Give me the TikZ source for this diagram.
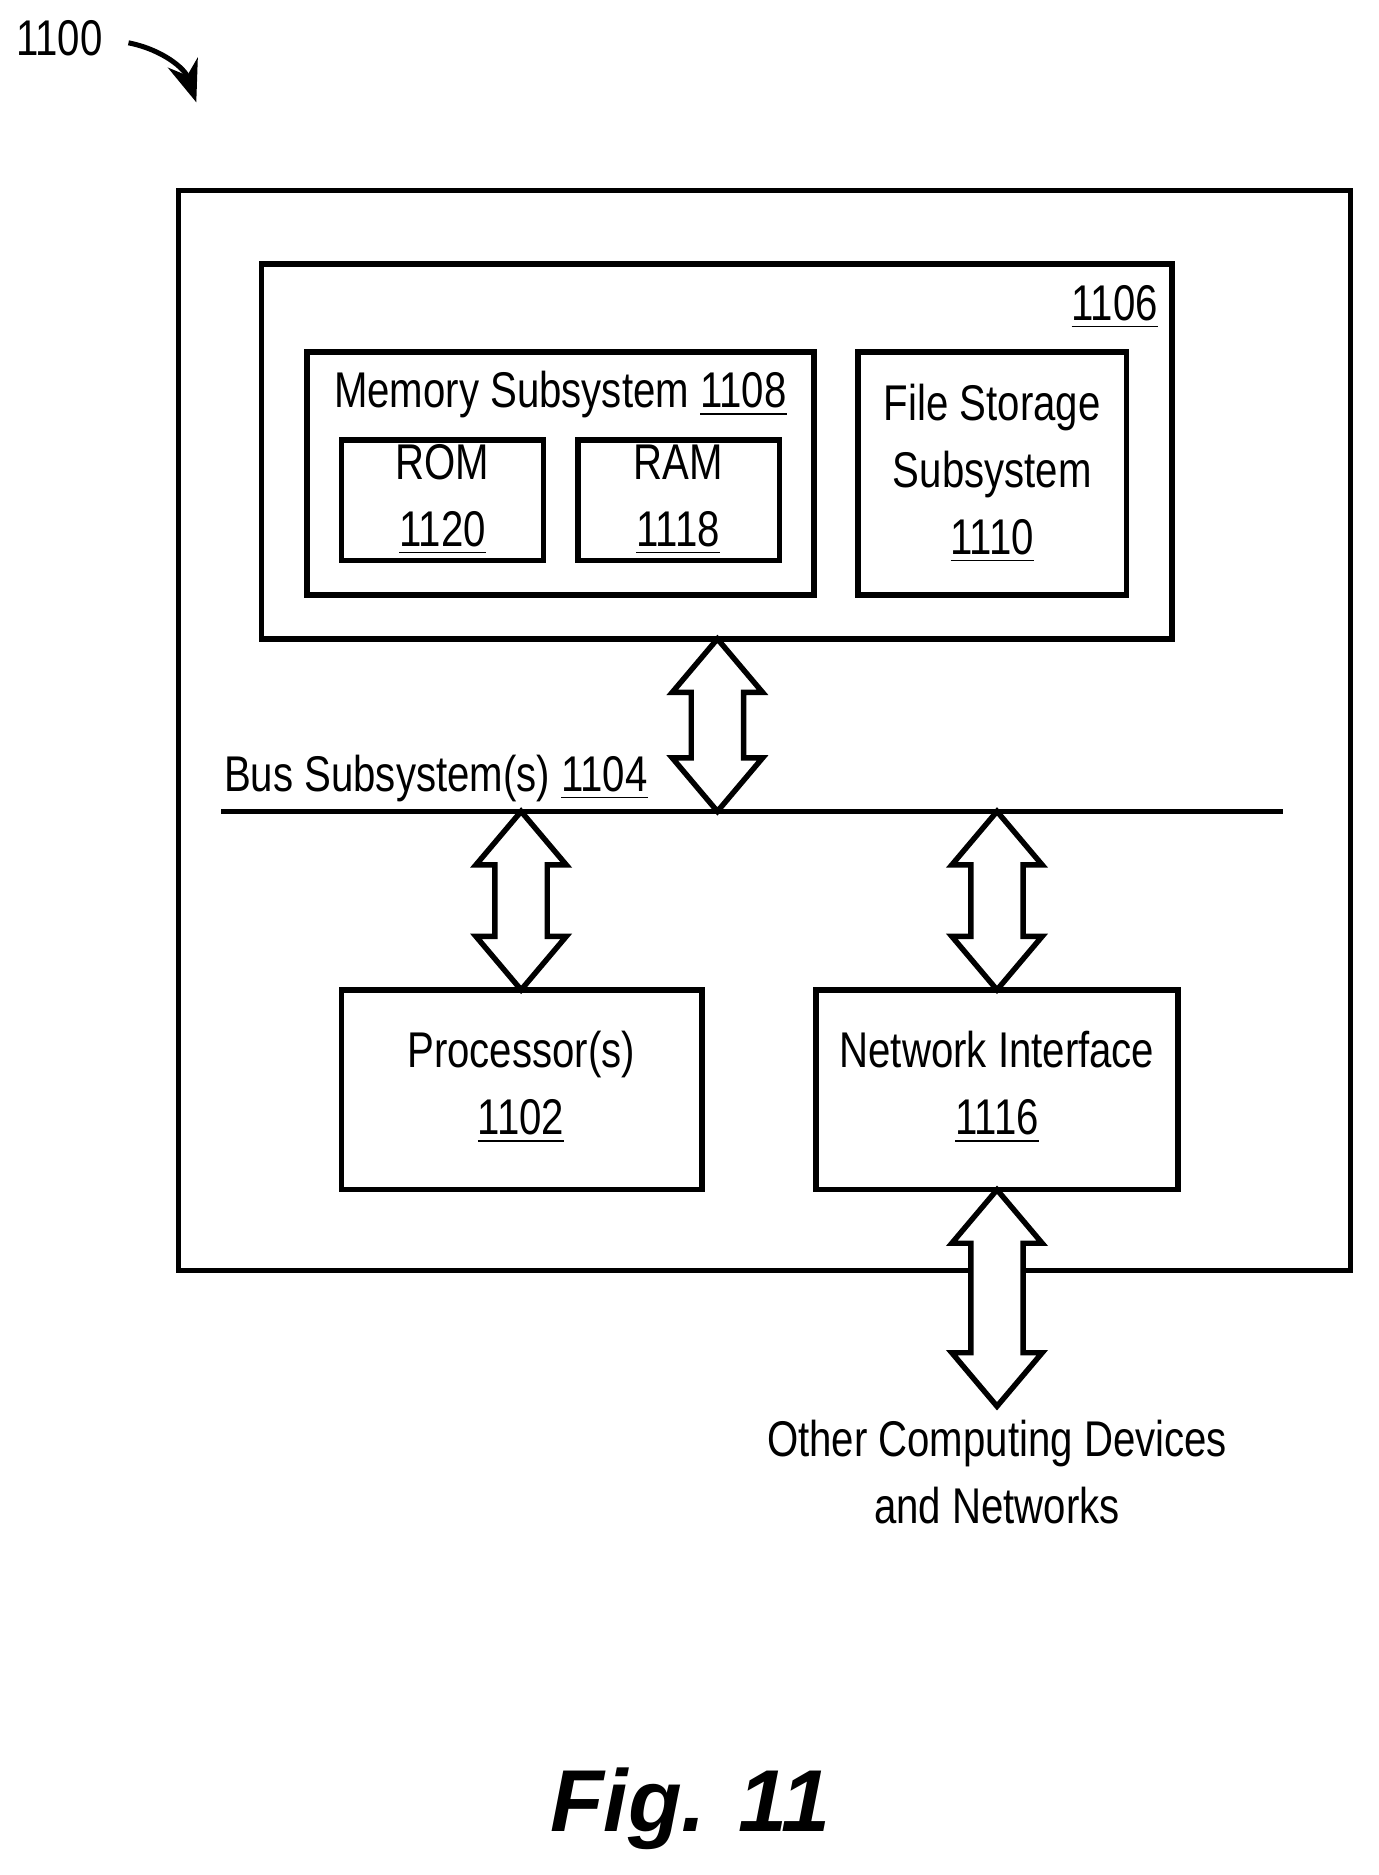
\documentclass[tikz,border=0pt]{standalone}
\usepackage{fontspec}
\setmainfont{Liberation Sans}[FakeStretch=0.8]
\newfontfamily\figfont{Liberation Sans}
\usetikzlibrary{positioning,calc,arrows.meta}
\newcommand{\bidiarrow}[2]{% from coordinate #1 (top) to #2 (bottom)
  \draw[bigarrow] ($(#1)$) -- ++(-38,45) -- ++(16,0) |- ($(#2)+(-22,-45)$) -- ++(-16,0)
    -- ($(#2)$) -- ++(38,-45) -- ++(-16,0) |- ($(#1)+(22,45)$) -- ++(16,0) -- cycle;}
\begin{document}
\begin{tikzpicture}[
    x=0.01cm, y=-0.01cm,
    bigarrow/.style={
        draw,
        line width=1.3pt,
        fill=white
    },
    lbl/.style={
        font=\fontsize{12}{16}\selectfont,
        align=center
    }
]
\useasboundingbox (0,0) rectangle (1159,1576);

% Outer system
\draw[line width=1.3pt] (150,160) rectangle (1135,1068);
\draw[line width=1.3pt] (220,222) rectangle (985,537);
\node[lbl] (n1106) at (937,258) {\underline{1106}};

% Memory and storage
\draw[line width=1.3pt] (258,296) rectangle (684,500);
\node[lbl] (mem) at (471,332) {Memory Subsystem \underline{1108}};
\draw[line width=1.3pt] (287,370) rectangle (457,471);
\node[lbl] (rom) at (372,420) {ROM\\\underline{1120}};
\draw[line width=1.3pt] (486,370) rectangle (655,471);
\node[lbl] (ram) at (570,420) {RAM\\\underline{1118}};
\draw[line width=1.3pt] (721,296) rectangle (947,500);
\node[lbl] (file) at (834,398) {File Storage\\Subsystem\\\underline{1110}};

% Bus
\coordinate (busL) at (186,682);
\coordinate (busR) at (1078,682);
\draw[line width=1.3pt] (busL) -- (busR);
\node[lbl, anchor=west] (bus) at (176,654) {Bus Subsystem(s) \underline{1104}};

% Processor and network
\draw[line width=1.3pt] (287,832) rectangle (590,1000);
\node[lbl] (proc) at (438,914) {Processor(s)\\\underline{1102}};
\draw[line width=1.3pt] (686,832) rectangle (990,1000);
\node[lbl] (net) at (838,914) {Network Interface\\\underline{1116}};
\node[lbl] (other) at (838,1237) {Other Computing Devices\\and Networks};

% Arrows
\coordinate (a1t) at (603,537); \coordinate (a1b) at (603,682);
\coordinate (a2t) at (438,682); \coordinate (a2b) at (438,832);
\coordinate (a3t) at (838,682); \coordinate (a3b) at (838,832);
\coordinate (a4t) at (838,1000); \coordinate (a4b) at (838,1182);
\bidiarrow{a1t}{a1b}
\bidiarrow{a2t}{a2b}
\bidiarrow{a3t}{a3b}
\bidiarrow{a4t}{a4b}

% Reference numeral
\node[lbl] (n1100) at (50,32) {1100};
\coordinate (p1100) at (165,86);
\draw[line width=1.2pt, -{Stealth[length=10pt]}] (108,36) to[bend left=30] (p1100);

\node[font=\figfont\bfseries\itshape\fontsize{21}{25}\selectfont] (fig) at (580,1520) {Fig. 11};
\end{tikzpicture}
\end{document}
